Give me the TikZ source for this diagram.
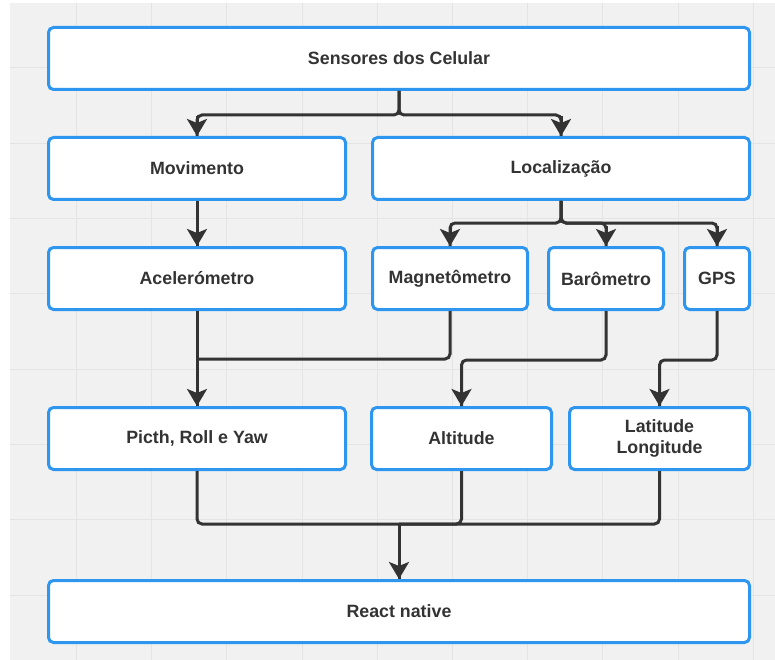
\documentclass[tikz,border=0pt]{standalone}
\usepackage{fontspec}
\setmainfont{Liberation Sans}
\usetikzlibrary{arrows.meta}
\definecolor{canvas}{HTML}{F1F1F1}
\definecolor{gridln}{HTML}{E4E4E4}
\definecolor{boxblue}{HTML}{2E96EE}
\definecolor{ink}{HTML}{333333}
\tikzset{
  box/.style={draw=boxblue, line width=3pt, fill=white, rounded corners=5pt,
    minimum height=62pt, inner sep=0pt, text=ink,
    font=\fontsize{17.8}{21}\selectfont\bfseries, align=center},
  conn/.style={draw=ink, line width=3pt, rounded corners=5pt},
  tip/.style={draw=ink, line width=3pt, sharp corners,
    -{Stealth[length=17pt,width=20pt,inset=4pt]}}
}
% arrowhead ending on the top edge of a node
\newcommand{\headon}[1]{\draw[tip] (#1.north) ++(0,-20) -- (#1.north);}
\begin{document}
\begin{tikzpicture}[x=1pt,y=-1pt]
\useasboundingbox (0,0) rectangle (775,660);
% canvas and grid
\fill[white] (0,0) rectangle (775,660);
\fill[canvas] (10,3) rectangle (775,660);
\foreach \i in {0,...,9} \draw[gridln, line width=1pt] ({76.5+75.2*\i},3) -- ({76.5+75.2*\i},660);
\foreach \j in {0,...,7} \draw[gridln, line width=1pt] (10,{68+75.3*\j}) -- (775,{68+75.3*\j});

% boxes
\node[box, minimum width=701pt] (top) at (399,58.5) {Sensores dos Celular};
\node[box, minimum width=297pt] (mov) at (197,168.5) {Movimento};
\node[box, minimum width=377pt] (loc) at (561,168.5) {Localização};
\node[box, minimum width=297pt] (acc) at (197,278.5) {Acelerómetro};
\node[box, minimum width=155pt] (mag) at (450,278.5) {Magnetômetro};
\node[box, minimum width=115pt] (baro) at (606,278.5) {Barômetro};
\node[box, minimum width=65pt] (gps) at (717,278.5) {GPS};
\node[box, minimum width=297pt] (pry) at (197,438.5) {Picth, Roll e Yaw};
\node[box, minimum width=180pt] (alt) at (461.5,438.5) {Altitude};
\node[box, minimum width=180pt] (lat) at (659.5,438.5) {Latitude\\Longitude};
\node[box, minimum width=701pt] (rn) at (399,611.5) {React native};

% junction points
\coordinate (j1) at (399,115);
\coordinate (j2) at (561,223);
\coordinate (j3) at (399,524);

% connectors
\draw[conn] (top.south) -- (j1) -| (mov.north);
\draw[conn] (top.south) -- (j1) -| (loc.north);
\draw[conn] (mov.south) -- (acc.north);
\draw[conn] (loc.south) -- (j2) -| (mag.north);
\draw[conn] (loc.south) -- (j2) -| (baro.north);
\draw[conn] (loc.south) -- (j2) -| (gps.north);
\draw[conn] (acc.south) -- (pry.north);
\draw[conn] (mag.south) |- (197,359);
\draw[conn] (baro.south) -- ++(0,49) -| (alt.north);
\draw[conn] (gps.south) -- ++(0,49) -| (lat.north);
\draw[conn] (pry.south) |- (j3);
\draw[conn] (alt.south) |- (j3);
\draw[conn] (lat.south) |- (j3);
\draw[conn] (j3) -- (rn.north);

% arrowheads
\foreach \n in {mov,loc,acc,mag,baro,gps,pry,alt,lat,rn} {\headon{\n}}
\end{tikzpicture}
\end{document}
